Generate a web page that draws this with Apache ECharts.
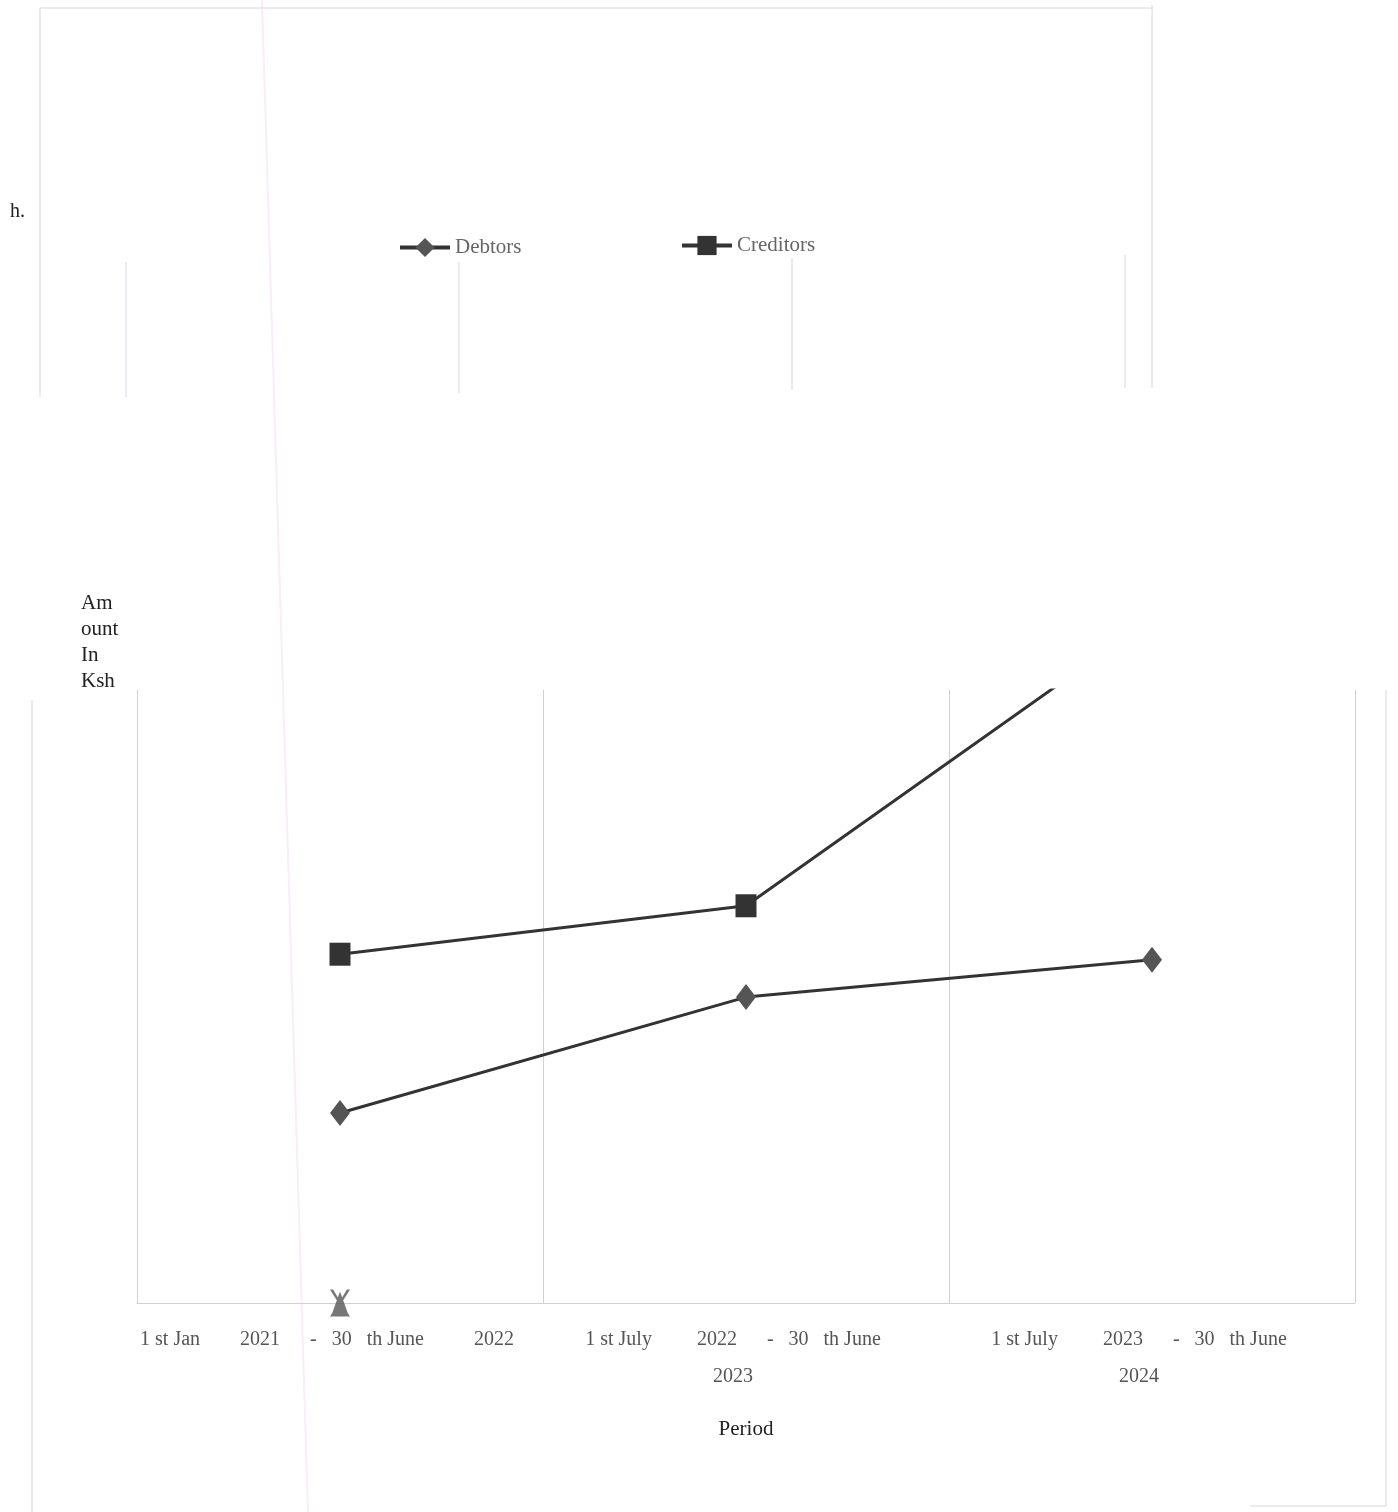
<!DOCTYPE html>
<html>
<head>
<meta charset="utf-8">
<script src="https://cdn.jsdelivr.net/npm/echarts@6/dist/echarts.min.js"></script>
<style>
  html, body { margin: 0; padding: 0; background: #ffffff; }
  #chart { width: 1398px; height: 1512px; }
</style>
</head>
<body>
<div id="chart"></div>
<script>
// ---- data ----
const categories = [
  '1 st Jan 2021 - 30 th June 2022',
  '1 st July 2022 - 30 th June 2023',
  '1 st July 2023 - 30 th June 2024'
];
// displayed tick labels (spacing as in the original)
const tickLabels = [
  '1 st Jan        2021      -   30   th June          2022',
  '1 st July         2022      -   30   th June\n2023',
  '1 st July         2023      -   30   th June\n2024'
];
const debtors = [31.0, 49.9, 56.0];
const creditors = [56.9, 64.8, 111.7];
const markerX = [0, null, null];

const frameColor = '#d9d6e4';
const serif = '"Liberation Serif", "DejaVu Serif", serif';

const chart = echarts.init(document.getElementById('chart'));

function vline(x, y1, y2, color, w) {
  return { type: 'line', silent: true, z: -1,
    shape: { x1: x, y1: y1, x2: x, y2: y2 },
    style: { stroke: color || frameColor, lineWidth: w || 1 } };
}
function hline(y, x1, x2) {
  return { type: 'line', silent: true, z: -1,
    shape: { x1: x1, y1: y, x2: x2, y2: y },
    style: { stroke: frameColor, lineWidth: 1 } };
}

const legendBase = {
  itemWidth: 50, itemHeight: 24, itemGap: 6,
  lineStyle: { width: 4 },
  textStyle: { fontFamily: serif, fontSize: 21, color: '#666' }
};

const option = {
  backgroundColor: '#ffffff',
  animation: false,
  grid: { left: 137, right: 43, top: 690, bottom: 209, containLabel: false },
  legend: [
    Object.assign({ data: ['Debtors'], left: 393, top: 232 }, legendBase),
    Object.assign({ data: ['Creditors'], left: 675, top: 230 }, legendBase)
  ],
  xAxis: {
    type: 'category',
    data: categories,
    boundaryGap: true,
    name: 'Period',
    nameLocation: 'middle',
    nameGap: 116,
    nameTextStyle: { fontFamily: serif, fontSize: 21, color: '#222' },
    axisLine: { show: true, lineStyle: { color: '#cfcfdc', width: 1 } },
    axisTick: { show: false },
    splitLine: { show: true, lineStyle: { color: '#cfcfdc', width: 1 } },
    axisLabel: {
      interval: 0,
      margin: 18,
      fontFamily: serif,
      fontSize: 20,
      color: '#555',
      lineHeight: 37,
      padding: [0, 26, 0, 0],
      formatter: function (v, i) { return tickLabels[i]; }
    }
  },
  yAxis: {
    type: 'value',
    min: 0,
    max: 100,
    axisLine: { show: true, lineStyle: { color: '#cfcfdc', width: 1 } },
    axisTick: { show: false },
    axisLabel: { show: false },
    splitLine: { show: false }
  },
  series: [
    {
      name: 'Debtors',
      type: 'line',
      data: debtors,
      symbol: 'diamond',
      symbolSize: [20, 26],
      lineStyle: { color: '#333', width: 3 },
      itemStyle: { color: '#555' },
      clip: true
    },
    {
      name: 'Creditors',
      type: 'line',
      data: creditors,
      symbol: 'rect',
      symbolSize: [21, 23],
      lineStyle: { color: '#333', width: 3 },
      itemStyle: { color: '#333' },
      clip: true
    },
    {
      name: 'Marker',
      type: 'scatter',
      data: markerX,
      clip: false,
      symbol: 'path://M10,2 L19,26 L1,26 Z M0,0 L3,0 L10,11 L17,0 L20,0 L11.5,13 L20,26 L17,26 L10,15 L3,26 L0,26 L8.5,13 Z',
      symbolSize: [20, 27],
      itemStyle: { color: '#555' }
    }
  ],
  graphic: [
    // upper scanned frame
    hline(8, 40, 1152),
    vline(40, 8, 397),
    vline(1152, 5, 388),
    vline(126, 262, 397),
    vline(459, 262, 393),
    vline(792, 258, 390),
    vline(1125, 255, 388),
    // lower scanned frame
    vline(32, 700, 1512),
    vline(1386, 690, 1506),
    hline(1506, 1250, 1386),
    // faint pink scan streak
    { type: 'line', silent: true, z: -2,
      shape: { x1: 262, y1: 0, x2: 308, y2: 1512 },
      style: { stroke: '#f8eef8', lineWidth: 2 } },
    // stray text
    { type: 'text', left: 10, top: 202, silent: true,
      style: { text: 'h.', fontFamily: serif, fontSize: 20, fill: '#222' } },
    // y-axis title
    { type: 'text', left: 81, top: 590, silent: true,
      style: { text: 'Am\nount\nIn\nKsh', fontFamily: serif, fontSize: 21, lineHeight: 26, fill: '#222' } }
  ]
};

chart.setOption(option);
</script>
</body>
</html>
